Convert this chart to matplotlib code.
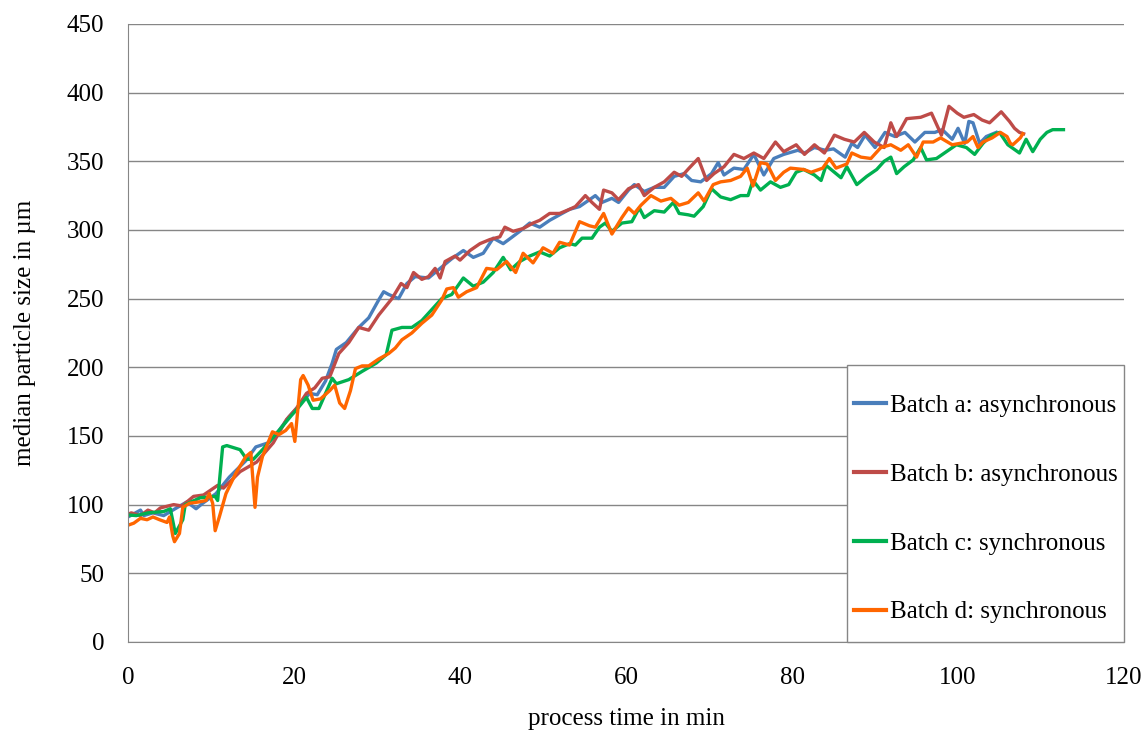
import matplotlib.pyplot as plt
from matplotlib.patches import Rectangle

plt.rcParams['font.family'] = ['Liberation Serif', 'DejaVu Serif']

# Batch a: asynchronous
t_a = [0, 1.5, 1.9, 3, 4.3, 5.4, 7.1, 8.2, 9, 10.6,
       12.2, 14.2, 15.4, 16.9, 18.2, 19.4, 21, 21.9, 22.8, 23.8,
       24.6, 25.1, 26.3, 27.8, 29, 30.2, 30.8, 31.4, 32.6, 33.6,
       34.6, 36.2, 37.4, 39, 40.4, 41.6, 42.8, 44, 45.2, 46.1,
       47.2, 48.4, 49.6, 50.8, 52, 53.2, 54.4, 55.6, 56.3, 57.1,
       58.3, 59.1, 60.3, 61, 62.2, 63.4, 64.6, 65.8, 67, 67.9,
       69, 70.3, 71.1, 71.8, 73, 74.2, 75.4, 76.6, 77.8, 79,
       80.7, 81.5, 82.7, 84, 85, 86.4, 87.2, 87.9, 88.8, 90,
       91.2, 92.4, 93.6, 94.8, 96, 97.2, 98.1, 99.3, 100, 100.8,
       101.3, 101.8, 102.6, 103.4, 104.6]
v_a = [91, 96, 92, 94, 92, 96, 102, 97, 101, 108,
       120, 132, 142, 145, 154, 164, 175, 181, 180, 190,
       203, 213, 218, 229, 236, 249, 255, 253, 250, 261,
       266, 265, 271, 279, 285, 280, 283, 294, 290, 294,
       299, 305, 302, 307, 311, 315, 317, 322, 325, 320,
       323, 320, 329, 333, 328, 331, 331, 339, 341, 336,
       335, 341, 349, 340, 345, 344, 355, 340, 352, 355,
       358, 356, 360, 358, 359, 353, 363, 360, 369, 360,
       371, 368, 371, 364, 371, 371, 373, 366, 374, 363,
       379, 378, 363, 368, 371]

# Batch b: asynchronous
t_b = [0, 0.4, 1.5, 2.4, 3.2, 3.9, 5.5, 6.5, 7.9, 9.1,
       10.8, 11.5, 13.5, 15.5, 17.5, 19.1, 20.3, 21.5, 22.5, 23.4,
       24.3, 25.4, 26.6, 27.8, 29, 30.2, 31.8, 32.9, 33.6, 34.4,
       35.4, 36.2, 37, 37.6, 38.2, 39.4, 40, 41.2, 42.4, 43.6,
       44.8, 45.4, 46.4, 47.6, 48.8, 49.6, 50.8, 52, 53.2, 53.9,
       55.1, 55.9, 56.8, 57.3, 58.3, 59.1, 60.3, 61.5, 62.2, 63.4,
       64.6, 65.8, 66.7, 67.6, 68.7, 69.7, 70.6, 71.8, 73, 74.2,
       75.4, 76.6, 78, 79, 80.5, 81.5, 82.7, 83.9, 85.1, 86.3,
       87.5, 88.7, 89.9, 91.1, 91.9, 92.6, 93.8, 95.5, 96.8, 98,
       98.9, 99.9, 100.7, 101.9, 102.9, 103.8, 105.2, 106.2, 106.8, 107.4,
       107.9]
v_b = [93, 94, 92, 96, 94, 97.6, 100, 99, 106, 107,
       114, 112, 124, 131, 145, 162, 170, 181, 185, 192,
       193, 210, 218, 229, 227, 238, 250, 261, 258, 269,
       264, 266, 272, 265, 277, 281, 278, 285, 290, 293,
       295, 302, 299, 301, 305, 307, 312, 312, 315, 317,
       325, 320, 315, 329, 327, 322, 330, 333, 325, 331,
       335, 342, 339, 345, 352, 336, 341, 346, 355, 352,
       356, 352, 364, 357, 362, 355, 362, 356, 369, 366,
       364, 371, 364, 360, 378, 368, 381, 382, 385, 369,
       390, 385, 382, 384, 380, 378, 386, 379, 374, 371,
       370]

# Batch c: synchronous
t_c = [0, 1, 2.4, 4.3, 5.1, 5.7, 6.6, 6.9, 8.7, 10.5,
       10.8, 11.4, 11.9, 13.5, 14.3, 15.1, 16.2, 17.5, 18.6, 19.7,
       20.3, 21.5, 22.2, 23, 24.6, 25.1, 26.6, 28.2, 29.9, 31.1,
       31.8, 33, 34.2, 35.4, 36.6, 37.8, 39, 40.4, 41.6, 42.8,
       44, 45.2, 46.1, 47.2, 48.4, 49.6, 50.8, 52, 53.2, 53.9,
       54.7, 55.9, 56.8, 57.5, 58.3, 59.5, 60.7, 61.6, 62.2, 63.4,
       64.6, 65.7, 66.4, 67.5, 68.2, 69.3, 70.3, 71.4, 72.6, 73.8,
       74.7, 75.3, 76.2, 77.4, 78.6, 79.6, 80.5, 81.4, 82.7, 83.5,
       84.1, 85.1, 85.9, 86.6, 87.8, 89, 90.2, 91.1, 91.9, 92.6,
       93.5, 94.6, 95.5, 96.2, 97.4, 98.6, 99.8, 101, 102, 103,
       104, 105, 106, 107.4, 108.2, 109, 109.9, 110.7, 111.4, 112.7]
v_c = [92.5, 92, 94, 95, 97, 79, 89, 100, 105, 106,
       103, 142, 143, 140, 133, 133, 140, 149, 157, 165,
       169, 178, 170, 170, 192, 188, 191, 197, 203, 209,
       227, 229, 229, 234, 242, 250, 253, 265, 259, 262,
       269, 280, 271, 277, 281, 284, 281, 287, 290, 289,
       294, 294, 302, 305, 299, 305, 306, 316, 309, 314,
       313, 320, 312, 311, 310, 317, 330, 324, 322, 325,
       325, 336, 329, 335, 331, 333, 342, 344, 340, 336,
       347, 342, 338, 346, 333, 339, 344, 350, 353, 341,
       346, 351, 360, 351, 352, 357, 362, 360, 355, 363,
       369, 371, 362, 356, 366, 357, 366, 371, 373, 373]

# Batch d: synchronous
t_d = [0, 0.7, 1.5, 2.3, 3, 3.8, 4.7, 5, 5.4, 5.6,
       6.2, 6.6, 7.4, 8.6, 9.4, 9.8, 10.2, 10.5, 11, 11.8,
       13, 14.2, 14.8, 14.9, 15.3, 15.6, 16.2, 17.4, 18.2, 19,
       19.7, 20.1, 20.8, 21.1, 21.7, 22.3, 23.2, 24.3, 24.9, 25.5,
       26.1, 26.8, 27.4, 28.2, 29, 30.2, 31.4, 32.2, 33, 34.2,
       35.4, 36.6, 37.8, 38.4, 39.2, 39.8, 40.8, 42, 43.2, 44.4,
       45.6, 46.7, 47.6, 48.8, 50, 51.2, 52, 53.2, 54.4, 55.6,
       56.3, 57.3, 58.3, 59.5, 60.3, 61, 61.8, 63, 64.2, 65.4,
       66.4, 67.5, 68.7, 69.4, 70.5, 71.4, 72.6, 73.8, 74.6, 75.3,
       76.2, 77, 78, 79, 79.8, 81.4, 82.3, 83.7, 84.5, 85.3,
       86.6, 87.2, 88.3, 89.5, 90.7, 91.9, 93.1, 94, 95, 95.8,
       97, 97.9, 99.3, 100.2, 101.1, 101.8, 102.4, 103, 104.1, 105.1,
       105.9, 106.3, 106.6, 107.5, 107.8]
v_d = [85, 86.5, 90, 89, 91, 89, 87, 91, 77, 73,
       79, 98, 101, 102, 103, 108, 101, 81, 91, 108,
       123, 135, 138, 130, 98, 120, 135, 153, 151, 154,
       159, 146, 191, 194, 187, 176, 177, 183, 187, 174,
       170, 183, 199, 201, 201, 206, 210, 214, 220, 225,
       232, 238, 249, 257, 258, 251, 255, 258, 272, 271,
       277, 269, 283, 276, 287, 283, 291, 289, 306, 303,
       302, 312, 297, 309, 316, 312, 318, 325, 321, 323,
       318, 320, 327, 321, 333, 335, 336, 339, 345, 332,
       349, 348, 336, 342, 345, 344, 342, 345, 352, 345,
       348, 356, 353, 352, 360, 362, 358, 362, 353, 364,
       364, 367, 362, 363, 364, 368, 360, 364, 367, 371,
       368, 363, 362, 367, 370]

series = [
    (t_a, v_a, "Batch a: asynchronous", "#4A7EBB"),
    (t_b, v_b, "Batch b: asynchronous", "#BE4B48"),
    (t_c, v_c, "Batch c: synchronous", "#00B050"),
    (t_d, v_d, "Batch d: synchronous", "#FF6600"),
]

fig = plt.figure(figsize=(11.47, 7.31), dpi=100)
ax = fig.add_axes([0.1116, 0.1218, 0.8684, 0.8455])

for t, v, label, color in series:
    ax.plot(t, v, color=color, lw=2.4, label=label, solid_joinstyle="round")

ax.set_xlim(0, 120)
ax.set_ylim(0, 450)
ax.set_xticks(range(0, 121, 20))
ax.set_yticks(range(0, 451, 50))
ax.grid(axis="y", color="#868686", lw=1)
ax.set_axisbelow(True)
for side in ["top", "right"]:
    ax.spines[side].set_visible(False)
for side in ["left", "bottom"]:
    ax.spines[side].set_color("#868686")
ax.tick_params(length=0, labelsize=18)
ax.tick_params(axis="y", pad=17)
ax.tick_params(axis="x", pad=18)

ax.set_xlabel("process time in min", fontsize=18, labelpad=14)
ax.set_ylabel("median particle size in µm", fontsize=18, labelpad=22)

# legend box drawn separately so the padding can be set freely
box = (0.722, 0.0, 0.278, 0.448)
ax.add_patch(Rectangle(box[:2], box[2], box[3], transform=ax.transAxes,
                       facecolor="white", edgecolor="#868686", lw=1,
                       zorder=4, clip_on=False))
leg = ax.legend(loc="center", bbox_to_anchor=(0.722, -0.009, 0.278, 0.448),
                borderaxespad=0, fontsize=18, frameon=False, labelspacing=1.85,
                handlelength=1.28, handletextpad=0.16)
leg.set_zorder(5)
for line in leg.get_lines():
    line.set_linewidth(3)

plt.savefig("out.png", dpi=100)
plt.close()
